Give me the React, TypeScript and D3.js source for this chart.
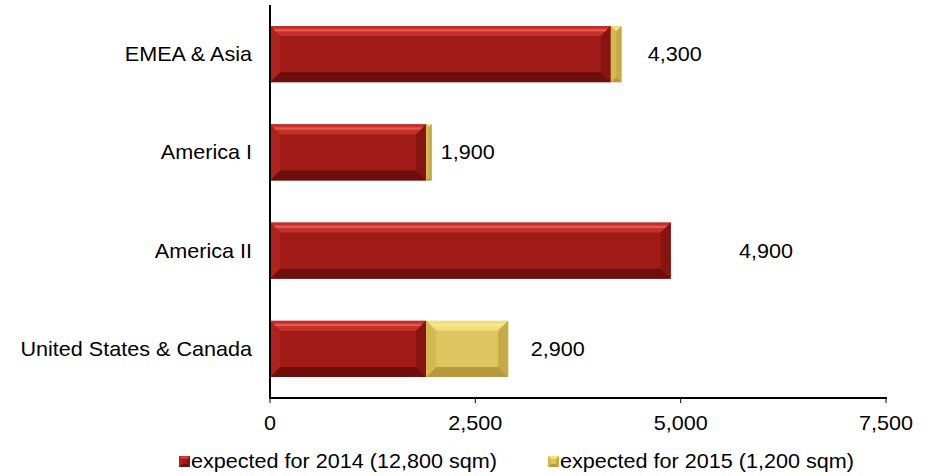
import React from "react";
import * as d3 from "d3";

const categories = ["EMEA & Asia", "America I", "America II", "United States & Canada"];
const expected2014 = [4150, 1900, 4880, 1900];
const expected2015 = [130, 70, 0, 1000];
const valueLabels = ["4,300", "1,900", "4,900", "2,900"];
const labelAnchor = [4600, 2080, 5710, 3175];
const xTicks = [0, 2500, 5000, 7500];
const legendLabels = ["expected for 2014 (12,800 sqm)", "expected for 2015 (1,200 sqm)"];

const W = 931;
const H = 476;
const FONT = "'Liberation Sans', Arial, sans-serif";
const SX = 1.08;

type Pal = { main: string; top: string; hi: string; bottom: string; left: string; right: string };
const RED: Pal = { main: "#A01B17", top: "#C3302A", hi: "#EE6058", bottom: "#6E0F0C", left: "#B0221D", right: "#861410" };
const YEL: Pal = { main: "#DEC560", top: "#F1DD7C", hi: "#F8EC9A", bottom: "#B49A3C", left: "#D4B850", right: "#C5AA48" };

function Bevel({ x0, x1, y, h, pal, b0 }: { x0: number; x1: number; y: number; h: number; pal: Pal; b0: number }) {
  const w = x1 - x0;
  if (w <= 0) return null;
  const b = Math.min(b0, w / 2, h / 2);
  const y1 = y + h;
  const pts = (a: [number, number][]) => a.map((p) => p.join(",")).join(" ");
  return (
    <g>
      <rect x={x0} y={y} width={w} height={h} fill={pal.main} />
      <polygon points={pts([[x0, y], [x1, y], [x1 - b, y + b], [x0 + b, y + b]])} fill={pal.top} />
      <polygon points={pts([[x0 + b * 0.3, y + b * 0.3], [x1 - b * 0.3, y + b * 0.3], [x1 - b * 0.55, y + b * 0.55], [x0 + b * 0.55, y + b * 0.55]])} fill={pal.hi} opacity={0.8} />
      <polygon points={pts([[x0, y1], [x1, y1], [x1 - b, y1 - b], [x0 + b, y1 - b]])} fill={pal.bottom} />
      <polygon points={pts([[x0, y], [x0 + b, y + b], [x0 + b, y1 - b], [x0, y1]])} fill={pal.left} />
      <polygon points={pts([[x1, y], [x1 - b, y + b], [x1 - b, y1 - b], [x1, y1]])} fill={pal.right} />
    </g>
  );
}

function T({ x, y, anchor, children }: { x: number; y: number; anchor: string; children: React.ReactNode }) {
  return (
    <text transform={`translate(${x},${y}) scale(${SX},1)`} textAnchor={anchor} fontFamily={FONT} fontSize={20} fill="#000">
      {children}
    </text>
  );
}

export default function App() {
  const x = d3.scaleLinear().domain([0, 7500]).range([270, 886]);
  const y = d3.scaleBand<string>().domain(categories).range([5, 398]).paddingInner(0.43).paddingOuter(0.215);
  const bw = y.bandwidth();

  return (
    <svg width={W} height={H} style={{ position: "absolute", left: 0, top: 0, background: "#fff" }}>
      {categories.map((c, i) => {
        const yy = y(c)!;
        const a = expected2014[i];
        const bv = expected2015[i];
        return (
          <g key={c}>
            <Bevel x0={x(0)} x1={x(a)} y={yy} h={bw} pal={RED} b0={10} />
            <Bevel x0={x(a)} x1={x(a + bv)} y={yy} h={bw} pal={YEL} b0={10} />
            <T x={252} y={yy + bw / 2 + 7} anchor="end">{c}</T>
            <T x={x(labelAnchor[i])} y={yy + bw / 2 + 7} anchor="start">{valueLabels[i]}</T>
          </g>
        );
      })}
      <line x1={270} x2={270} y1={5} y2={399} stroke="#000" strokeWidth={2} />
      <line x1={269} x2={x(7500) + 1} y1={398} y2={398} stroke="#000" strokeWidth={2} />
      {xTicks.map((t) => (
        <g key={t}>
          <line x1={x(t)} x2={x(t)} y1={398} y2={403} stroke="#000" strokeWidth={1} />
          <T x={x(t)} y={430} anchor="middle">{d3.format(",")(t)}</T>
        </g>
      ))}
      <g>
        <Bevel x0={179} x1={190} y={456} h={11} pal={RED} b0={3} />
        <T x={191} y={468} anchor="start">{legendLabels[0]}</T>
        <Bevel x0={548} x1={559} y={456} h={11} pal={YEL} b0={3} />
        <T x={560} y={468} anchor="start">{legendLabels[1]}</T>
      </g>
    </svg>
  );
}
